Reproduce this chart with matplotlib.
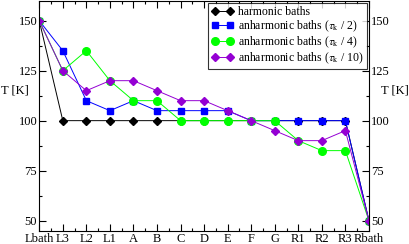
import matplotlib
matplotlib.use('Agg')
import matplotlib.pyplot as plt
from matplotlib.ticker import MultipleLocator

plt.rcParams['font.family'] = ['Liberation Serif', 'DejaVu Serif']
plt.rcParams['mathtext.fontset'] = 'stix'

sites = ['Lbath', 'L3', 'L2', 'L1', 'A', 'B', 'C', 'D', 'E', 'F', 'G',
         'R1', 'R2', 'R3', 'Rbath']
harmonic = [150, 100, 100, 100, 100, 100, 100, 100, 100, 100, 100, 100, 100, 100, 50]
tau_2 = [150, 135, 110, 105, 110, 105, 105, 105, 105, 100, 100, 100, 100, 100, 50]
tau_4 = [150, 125, 135, 120, 110, 110, 100, 100, 100, 100, 100, 90, 85, 85, 50]
tau_10 = [150, 125, 115, 120, 120, 115, 110, 110, 105, 100, 95, 90, 90, 95, 50]

x = list(range(len(sites)))

fig = plt.figure(figsize=(4.09, 2.44), dpi=100)
ax = fig.add_axes([0.096, 0.055, 0.806, 0.942])

ax.plot(x, harmonic, color='black', lw=0.7, marker='D', ms=4,
        label='harmonic baths')
ax.plot(x, tau_2, color='#0000ff', lw=0.7, marker='s', ms=4,
        label=r'anharmonic baths ($\tau_{\rm k}$ / 2)')
ax.plot(x, tau_4, color='#00ff00', lw=0.7, marker='o', ms=5.5,
        label=r'anharmonic baths ($\tau_{\rm k}$ / 4)')
ax.plot(x, tau_10, color='#9400d3', lw=0.7, marker='D', ms=4,
        label=r'anharmonic baths ($\tau_{\rm k}$ / 10)')

ax.set_xlim(0, 14)
ax.set_ylim(45, 160)
ax.set_xticks(x)
ax.set_xticklabels(sites)
ax.xaxis.set_minor_locator(MultipleLocator(0.5))
ax.yaxis.set_major_locator(MultipleLocator(25))
ax.yaxis.set_minor_locator(MultipleLocator(12.5))

ax.tick_params(which='both', direction='in', top=True, right=True,
               labelright=True, labelsize=9, pad=1.5)
ax.tick_params(which='major', length=5, width=0.8)
ax.tick_params(which='minor', length=2.5, width=0.8)

fig.text(0.003, 0.63, 'T [K]', fontsize=9, ha='left', va='center')
fig.text(0.932, 0.63, 'T [K]', fontsize=9, ha='left', va='center')

leg = ax.legend(loc='upper right', fontsize=8.5, numpoints=2, handlelength=1.9,
                frameon=True, fancybox=False, edgecolor='black',
                borderaxespad=0.2, labelspacing=0.05, handletextpad=0.35,
                borderpad=0.25)
leg.get_frame().set_linewidth(0.8)

fig.savefig('out.png', dpi=100)
